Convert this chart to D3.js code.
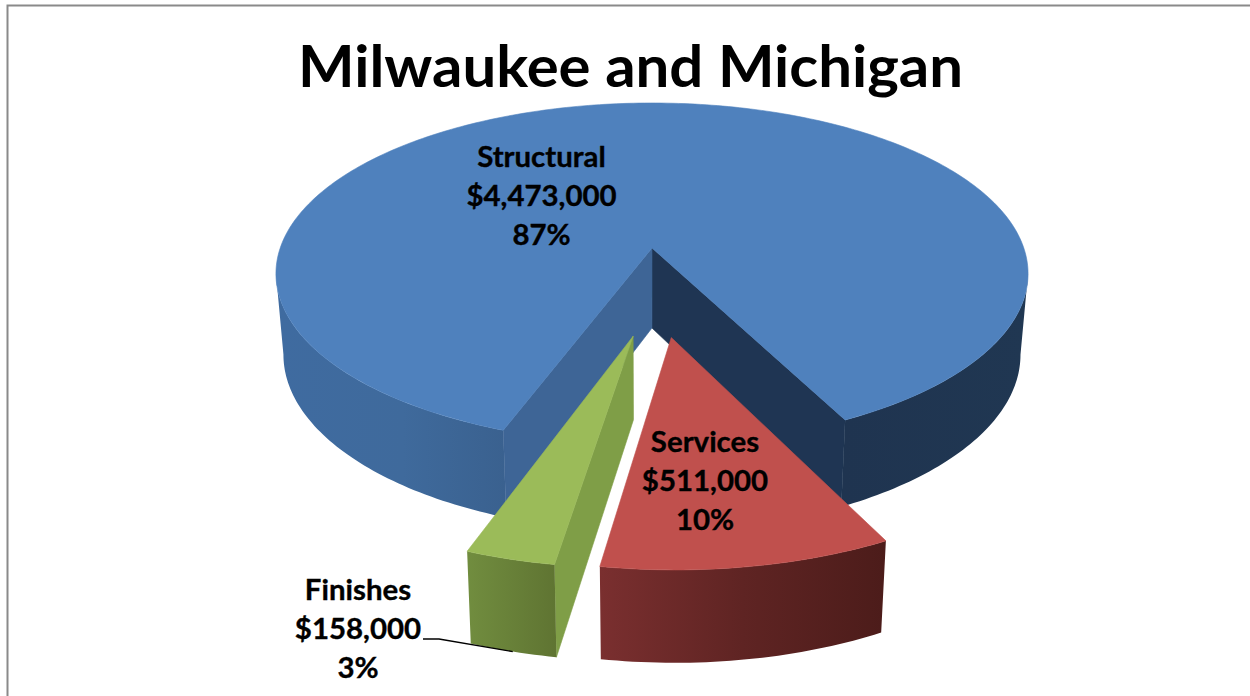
<!DOCTYPE html>
<html><head><meta charset="utf-8">
<script src="https://d3js.org/d3.v7.min.js"></script>
<style>html,body{margin:0;padding:0;background:#fff}svg{display:block}text{font-family:Lato,"Open Sans",sans-serif;font-weight:700;fill:#000;text-anchor:middle}</style>
</head><body><div id="chart"></div>
<script>
const title = "Milwaukee and Michigan";
const categories = ["Structural", "Services", "Finishes"];
const amounts = [4473000, 511000, 158000];

const W = 1250, H = 696;
const rad = Math.PI / 180;
const view = {cx: 652, cy: 248, rx: 371.8, ry: 166.75, persp: 0.15, startDeg: 200.1};
const explode = [[0, 0], [0.048, 0.497], [-0.047, 0.49]];
const fillTop = ["#4F81BD", "#C0504D", "#9BBB59"];
const labelPos = [[541.5, 167], [705, 452], [358, 600]];
const lineGap = 39;

const svg = d3.select("#chart").append("svg").attr("width", W).attr("height", H);
const defs = svg.append("defs");
function grad(id, stops) {
  const g = defs.append("linearGradient").attr("id", id);
  stops.forEach(s => g.append("stop").attr("offset", s[0]).attr("stop-color", s[1]));
}
grad("blueL", [[0, "#3F6BA0"], [0.55, "#3F6A9C"], [1, "#3A618F"]]);
grad("blueR", [[0, "#1F3450"], [1, "#203752"]]);
grad("red", [[0, "#7A2F2F"], [0.5, "#5F2423"], [1, "#4C1C1A"]]);
grad("green", [[0, "#718D3F"], [1, "#5F7432"]]);

svg.append("path").attr("d", `M7.5,${H} V5.5 H${W}`).attr("fill", "none").attr("stroke", "#8a8a8a").attr("stroke-width", 2);

// ground-plane point (u right, v towards viewer) to screen, with perspective
function topPt(u, v) {
  const f = 1 / (1 - view.persp * v);
  return [view.cx + view.rx * u * f, view.cy + view.ry * v * f];
}
function lower(p) {
  return [650 + (p[0] - 650) * 0.98, p[1] + 80 + (p[1] - 248) * 0.04];
}
const pie = d3.pie().sort(null).startAngle(view.startDeg * rad).endAngle((view.startDeg + 360) * rad);
const slices = pie(amounts);
const total = d3.sum(amounts);
const fmtMoney = d3.format("$,");
const fmtPct = d3.format(".0%");
const line = d3.line().curve(d3.curveLinear);

function rim(a0, a1, off) {
  const n = Math.max(2, Math.ceil(Math.abs(a1 - a0) / (1 * rad)));
  return d3.range(n + 1).map(i => {
    const a = a0 + (a1 - a0) * i / n;
    return topPt(Math.sin(a) + off[0], -Math.cos(a) + off[1]);
  });
}
function wall(pts) {
  return line(pts.concat(pts.map(lower).reverse())) + "Z";
}
function solid(d, fill) {
  svg.append("path").attr("d", d).attr("fill", fill).attr("stroke", fill).attr("stroke-width", 0.6).attr("stroke-linejoin", "round");
}
const gArc = slices.map((s, i) => ({s, i, off: explode[i]}));
// angle from the top at which the rim reaches its widest screen x
const silhouette = Math.acos(-view.persp);

// blue: outer walls and cut faces, then lid
const blue = gArc[0];
const apex0 = topPt(0, 0);
const bStart = rim(blue.s.startAngle, blue.s.startAngle, [0,0])[0];
const bEnd = rim(blue.s.endAngle, blue.s.endAngle, [0,0])[0];
svg.append("path").attr("d", wall(rim(blue.s.startAngle, 2 * Math.PI - silhouette, [0,0]))).attr("fill", "url(#blueL)");
svg.append("path").attr("d", wall(rim(2 * Math.PI + silhouette, blue.s.endAngle, [0,0]))).attr("fill", "url(#blueR)");
solid(wall([apex0, bEnd]), "#1F3553");
solid(wall([apex0, bStart]), "#3E6596");
solid(line([apex0].concat(rim(blue.s.startAngle, blue.s.endAngle, [0,0]))) + "Z", fillTop[0]);

// services
const red = gArc[1];
const redRim = rim(red.s.startAngle, red.s.endAngle, red.off);
svg.append("path").attr("d", wall(redRim)).attr("fill", "url(#red)");
solid(line([topPt(red.off[0], red.off[1])].concat(redRim)) + "Z", fillTop[1]);

// finishes
const grn = gArc[2];
const grnRim = rim(grn.s.startAngle, grn.s.endAngle, grn.off);
const grnApex = topPt(grn.off[0], grn.off[1]);
solid(wall([grnApex, grnRim[0]]), "#7F9E47");
svg.append("path").attr("d", wall(grnRim)).attr("fill", "url(#green)");
solid(line([grnApex].concat(grnRim)) + "Z", fillTop[2]);

// leader
const leaderEnd = lower(grnRim[Math.floor(grnRim.length / 2)]);
svg.append("path").attr("d", `M423,639 H439 L${leaderEnd[0]},${leaderEnd[1]}`).attr("fill", "none").attr("stroke", "#000").attr("stroke-width", 1.4);

// fit Lato to the original's widths
function squeeze(t, k) {
  const w = t.node().getComputedTextLength();
  t.attr("textLength", w * k).attr("lengthAdjust", "spacingAndGlyphs");
}
const tt = svg.append("text").attr("x", 630.5).attr("y", 87).attr("font-size", 58).text(title);
tt.attr("textLength", 665).attr("lengthAdjust", "spacingAndGlyphs");

categories.forEach((c, i) => {
  const lines = [c, fmtMoney(amounts[i]), fmtPct(amounts[i] / total)];
  lines.forEach((l, j) => {
    const t = svg.append("text").attr("x", labelPos[i][0]).attr("y", labelPos[i][1] + j * lineGap)
      .attr("font-size", 28).attr("stroke", "#000").attr("stroke-width", 0.35).text(l);
    squeeze(t, 1.05);
  });
});
</script></body></html>
